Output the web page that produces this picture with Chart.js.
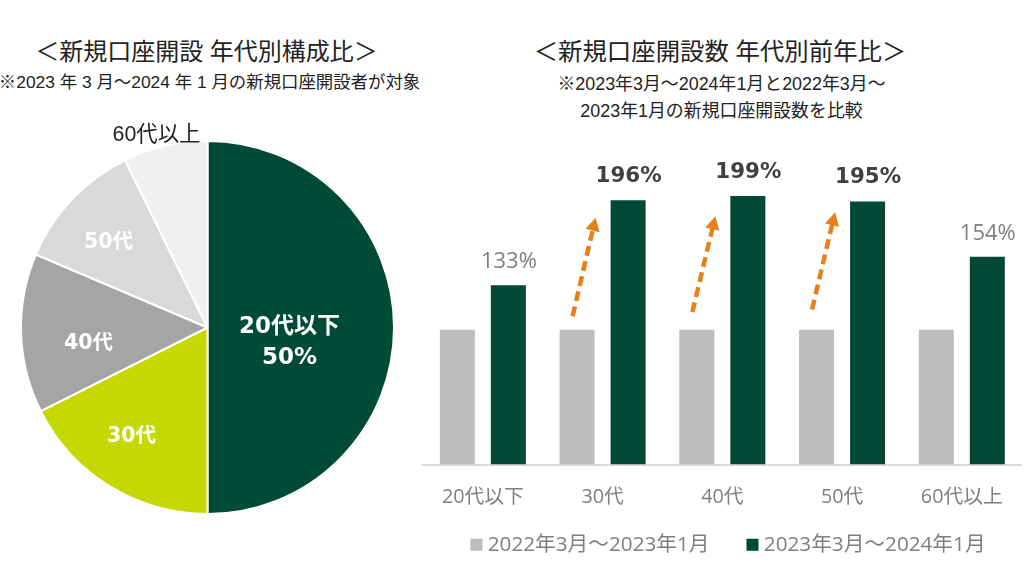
<!DOCTYPE html>
<html><head><meta charset="utf-8">
<style>
html,body{margin:0;padding:0;background:#fff;width:1024px;height:576px;overflow:hidden;font-family:"Liberation Sans","Noto Sans CJK JP",sans-serif}
canvas{position:absolute}
.t{position:absolute;white-space:nowrap;text-align:center;color:#222;transform:translateX(-50%)}
</style>
<script src="https://cdn.jsdelivr.net/npm/chart.js@4"></script>
</head><body>
<div class="t" style="left:206.5px;top:35px;font-size:24px;line-height:34px">＜新規口座開設 年代別構成比＞</div>
<div class="t" style="left:209.5px;top:71px;font-size:17.4px;line-height:22px">※2023 年 3 月～2024 年 1 月の新規口座開設者が対象</div>
<div class="t" style="left:720px;top:35px;font-size:24.4px;line-height:34px">＜新規口座開設数 年代別前年比＞</div>
<div class="t" style="left:721.5px;top:71px;font-size:17.9px;line-height:27px">※2023年3月～2024年1月と2022年3月～<br>2023年1月の新規口座開設数を比較</div>
<canvas id="pie" style="left:0;top:120px;width:420px;height:420px"></canvas>
<canvas id="bar" style="left:420px;top:130px;width:604px;height:473px"></canvas>
<script>
const pieLabels = ['20代以下','30代','40代','50代','60代以上'];
const pieValues = [50,17.6,13.8,11.3,7.3];
const pieColors = ['#004b36','#c5d900','#a5a5a5','#d9d9d9','#f0f0f0'];
const pieText = [['20代以下','50%'],['30代'],['40代'],['50代'],['60代以上']];
const barLabels = ['20代以下','30代','40代','50代','60代以上'];
const prevYear = [100,100,100,100,100];
const thisYear = [133,196,199,195,154];
const series = ['2022年3月～2023年1月','2023年3月～2024年1月'];
const boldPct = [false,true,true,true,false];
const arrowFrom = [null,110,113,115,null];
const arrowTo = [null,183,184,187,null];
const cjk = '"Noto Sans CJK JP",sans-serif';
const sans = '"Open Sans",'+cjk;
const heavy = '"DejaVu Sans",'+cjk;

const pieOffsets = [[82,15],[-76,109],[-119,16],[-99,-85],[-51,-192]];
const pieLabelPlugin = {id:'pieLabel',afterDraw(c){
  const x=c.ctx, arcs=c.getDatasetMeta(0).data;
  x.save();x.textAlign='center';x.textBaseline='middle';
  arcs.forEach((a,i)=>{
    const px=a.x+pieOffsets[i][0], py=a.y+pieOffsets[i][1];
    if(i===4){
      x.fillStyle='#222';x.font='21.4px "Liberation Sans",'+cjk;
      x.fillText(pieText[i][0],px,py);return;
    }
    x.fillStyle='#fff';x.font='bold '+(i===0?23:20.5)+'px '+heavy;
    const L=pieText[i];
    L.forEach((s,k)=>x.fillText(s,px,py+(k-(L.length-1)/2)*31));
  });
  x.restore();
}};
new Chart(document.getElementById('pie'),{type:'pie',plugins:[pieLabelPlugin],
  data:{labels:pieLabels,datasets:[{data:pieValues,backgroundColor:pieColors,borderColor:'#fff',borderWidth:2}]},
  options:{responsive:false,animation:false,rotation:0,
    layout:{padding:{left:20,right:25,top:20,bottom:25}},
    plugins:{legend:{display:false},tooltip:{enabled:false}}}});

const barPlugin = {id:'annot',
 afterLayout(c){const l=c.legend;l.left+=8;l.right+=8;l.top-=38;l.bottom-=38;},
 afterDatasetsDraw(c){
  const x=c.ctx, m=c.getDatasetMeta(1).data, ys=c.scales.y;
  x.save();x.textAlign='center';x.textBaseline='middle';
  m.forEach((b,i)=>{
    x.font=boldPct[i]?'bold 21.4px "DejaVu Sans"':'22px "Open Sans"';
    x.fillStyle=boldPct[i]?'#404040':'#7f7f7f';
    x.fillText(thisYear[i]+'%',b.x+0.5,b.y-(boldPct[i]?24:23));
    if(arrowFrom[i]!==null){
      const x0=b.x-55.5, y0=ys.getPixelForValue(arrowFrom[i]), x1=b.x-32.5, y1=ys.getPixelForValue(arrowTo[i]);
      const ang=Math.atan2(y1-y0,x1-x0);
      x.strokeStyle='#e8801a';x.fillStyle='#e8801a';x.lineWidth=4.5;x.setLineDash([10,5.5]);
      x.beginPath();x.moveTo(x0,y0);x.lineTo(x1-Math.cos(ang)*9,y1-Math.sin(ang)*9);x.stroke();
      x.setLineDash([]);
      x.beginPath();x.moveTo(x1,y1);
      x.lineTo(x1-Math.cos(ang-0.5)*15,y1-Math.sin(ang-0.5)*15);
      x.lineTo(x1-Math.cos(ang+0.5)*15,y1-Math.sin(ang+0.5)*15);x.closePath();x.fill();
    }
  });
  x.restore();
}};
new Chart(document.getElementById('bar'),{type:'bar',plugins:[barPlugin],
  data:{labels:barLabels,datasets:[
    {label:series[0],data:prevYear,backgroundColor:'#bdbdbd',categoryPercentage:0.852,barPercentage:0.686},
    {label:series[1],data:thisYear,backgroundColor:'#004935',categoryPercentage:0.852,barPercentage:0.686}]},
  options:{responsive:false,animation:false,
    layout:{padding:{left:3,right:2,top:0,bottom:0}},
    scales:{
      x:{grid:{display:false,drawTicks:false},border:{color:'#d9d9d9',width:2},
         ticks:{color:'#7f7f7f',font:{size:19.8,family:sans},padding:21,maxRotation:0}},
      y:{display:false,min:0,max:248}},
    plugins:{tooltip:{enabled:false},legend:{position:'bottom',
      labels:{color:'#7f7f7f',font:{size:20.7,family:sans},usePointStyle:true,pointStyle:'rect',boxWidth:2,boxHeight:12,padding:42}}}}});
</script>
</body></html>
